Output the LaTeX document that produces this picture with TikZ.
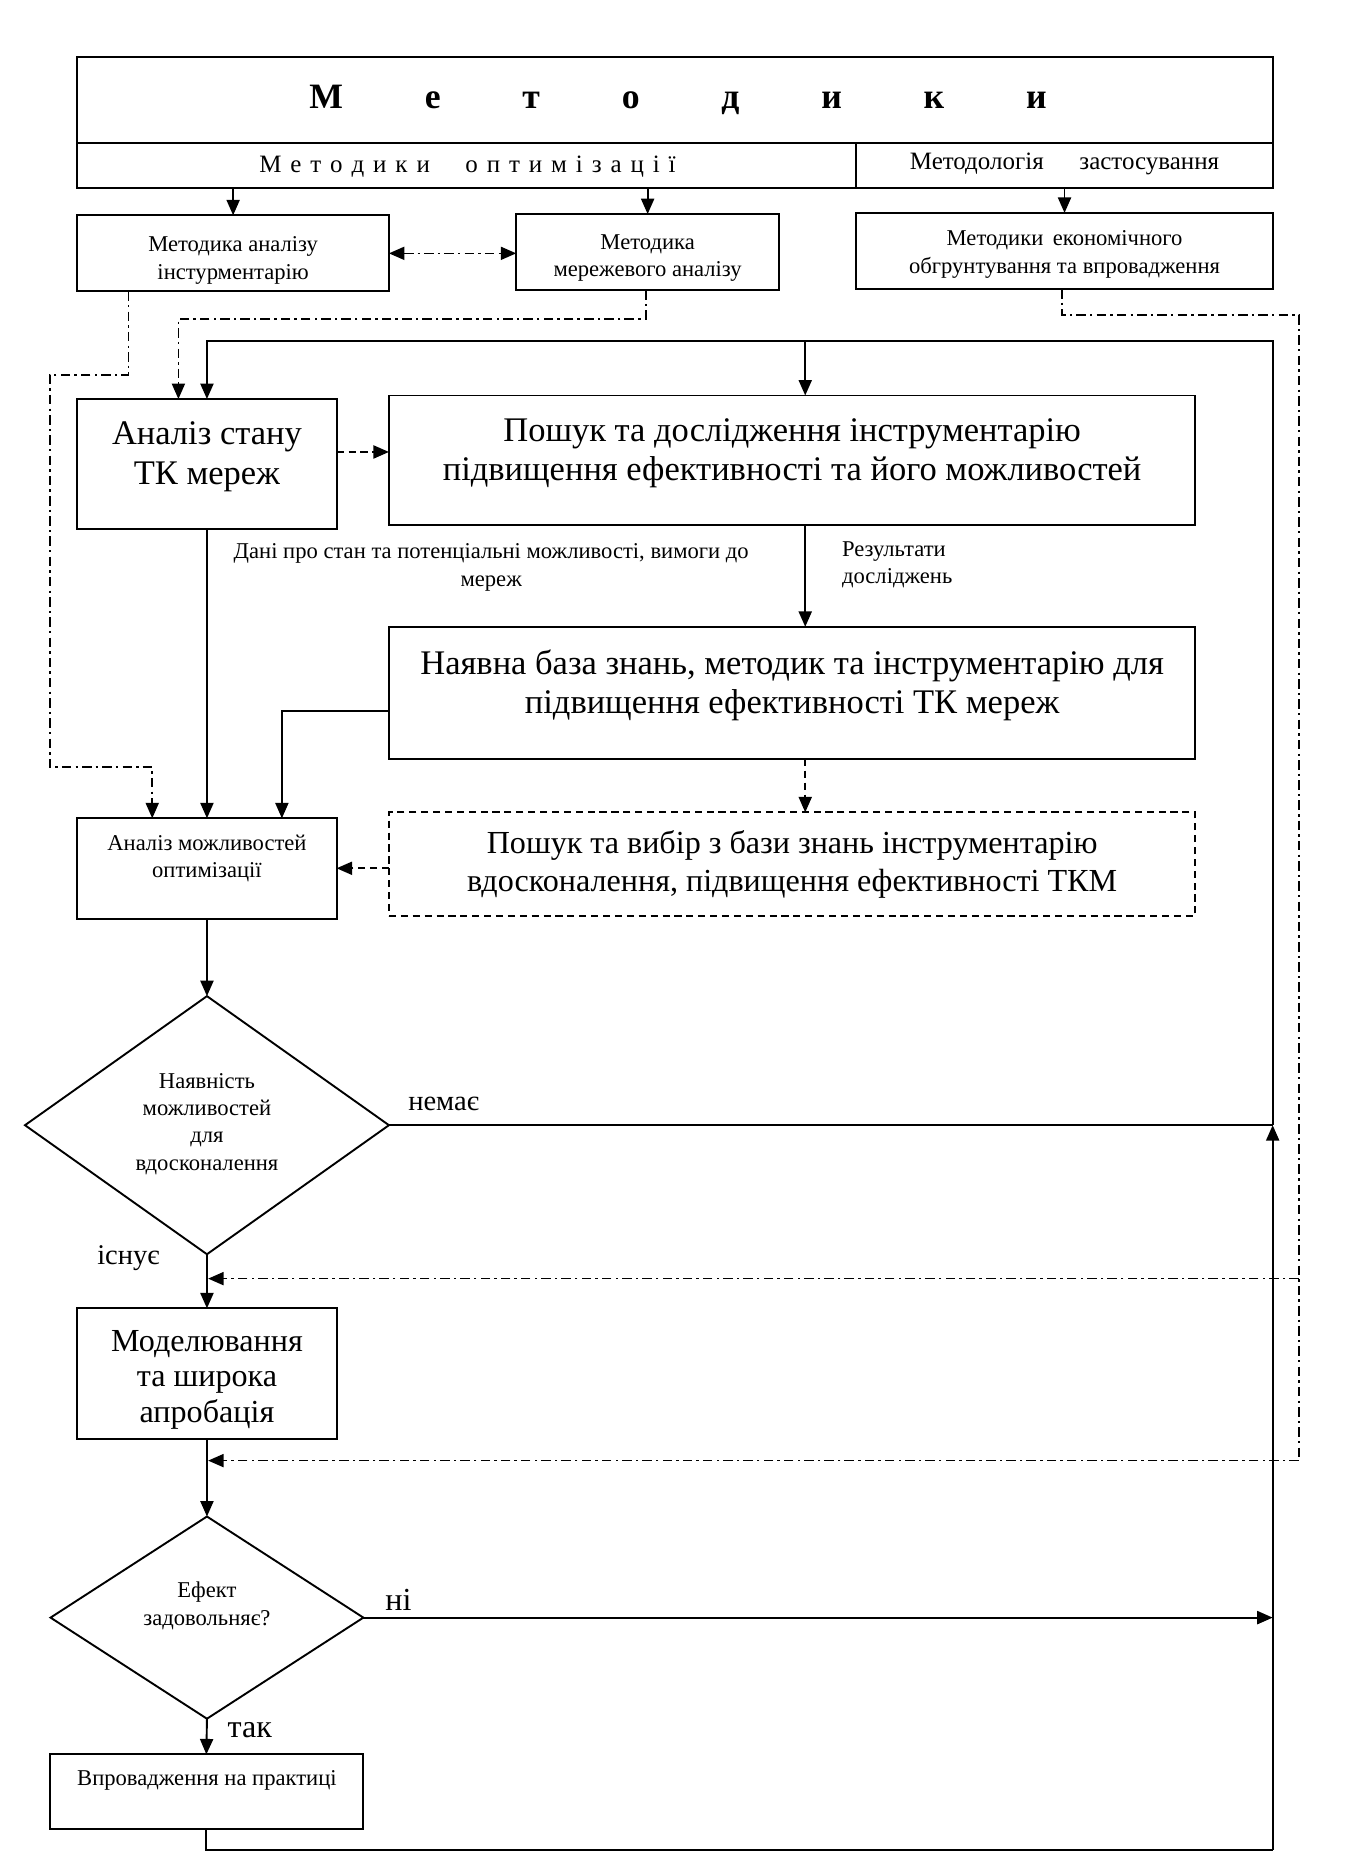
\documentclass[tikz,border=0pt]{standalone}
\usepackage{fontspec}
\setmainfont{Liberation Serif}
\usetikzlibrary{arrows.meta,shapes.geometric}
\newcommand\szS{\fontsize{19}{23}\selectfont}
\newcommand\szB{\fontsize{29}{33}\selectfont}
\newcommand\szV{\fontsize{27}{32}\selectfont}
\newcommand\szMo{\fontsize{27}{30}\selectfont}
\newcommand\szT{\fontsize{30}{36}\selectfont\bfseries}
\newcommand\szM{\fontsize{21}{25}\selectfont}
\newcommand\szL{\fontsize{24}{28}\selectfont}
\newcommand\szLL{\fontsize{27}{30}\selectfont}
\begin{document}
\begin{tikzpicture}[x=1pt,y=-1pt,
  every node/.style={inner sep=0pt, outer sep=0pt},
  box/.style={draw, line width=1.6pt, rectangle, align=center},
  ln/.style={line width=1.6pt},
  arr/.style={-{Triangle[length=13pt,width=11pt]}},
  dd/.style={line width=1.4pt, dash pattern=on 8pt off 3.5pt on 2pt off 3.5pt},
  ds/.style={line width=1.4pt, dash pattern=on 6pt off 4pt},
  dia/.style={draw, line width=1.6pt, diamond},
  lbl/.style={align=center}
]
\useasboundingbox (0,0) rectangle (1135,1568);
\fill[white] (0,0) rectangle (1135,1568);

% header
\node[box, minimum width=1005pt, minimum height=72pt] (top) at (567.5,84) {};
\node[font=\szT] (toptxt) at (570,84) {\makebox[620pt]{М\hfill е\hfill т\hfill о\hfill д\hfill и\hfill к\hfill и}};
\node[box, minimum width=655pt, minimum height=38pt] (optl) at (392.5,139) {};
\node[font=\szM] (opttxt) at (393,140) {\makebox[350pt]{М\hfill е\hfill т\hfill о\hfill д\hfill и\hfill к\hfill и\hfill\hfill\hfill\hfill о\hfill п\hfill т\hfill и\hfill м\hfill і\hfill з\hfill а\hfill ц\hfill і\hfill ї}};
\node[box, minimum width=350pt, minimum height=38pt] (optr) at (895,139) {};
\node[font=\szM] (optrt) at (895,138) {Методологія\hspace{30pt}застосування};

% second level
\node[box, minimum width=262pt, minimum height=64pt] (m1) at (196,213) {};
\node[font=\szS, lbl] (m1t) at (196,219) {Методика аналізу\\інстурментарію};
\node[box, minimum width=221pt, minimum height=64pt] (m2) at (544.5,212) {};
\node[font=\szS, lbl] (m2t) at (544.5,217) {Методика\\мережевого аналізу};
\node[box, minimum width=350pt, minimum height=64pt] (m3) at (895,211) {};
\node[font=\szS, lbl] (m3t) at (895,214) {Методики\hspace{8pt}економічного\\обгрунтування та впровадження};

\draw[ln,arr] (m1.north |- optl.south) -- (m1.north);
\draw[ln,arr] (m2.north |- optl.south) -- (m2.north);
\draw[ln,arr] (m3.north |- optr.south) -- (m3.north);
\draw[dd,{Triangle[length=13pt,width=11pt]}-{Triangle[length=13pt,width=11pt]}] (m1.east) -- (m1.east -| m2.west);

% main boxes
\node[box, minimum width=218pt, minimum height=109pt] (stan) at (174,390) {};
\node[font=\szB, lbl] (stant) at (174,384) {Аналіз стану\\ТК мереж};
\node[box, minimum width=678pt, minimum height=109pt] (posh) at (666,387) {};
\node[font=\szB, lbl] (posht) at (666,381) {Пошук та дослідження інструментарію\\підвищення ефективності та його можливостей};
\node[box, minimum width=678pt, minimum height=111pt] (baza) at (666,582.5) {};
\node[font=\szB, lbl] (bazat) at (666,576) {Наявна база знань, методик та інструментарію для\\підвищення ефективності ТК мереж};
\node[box, dash pattern=on 6pt off 4pt, minimum width=678pt, minimum height=87pt] (vyb) at (666,726.5) {};
\node[font=\szV, lbl] (vybt) at (666,727) {Пошук та вибір з бази знань інструментарію\\вдосконалення, підвищення ефективності ТКМ};
\node[box, minimum width=218pt, minimum height=85pt] (am) at (174,730.5) {};
\node[font=\szS, lbl] (amt) at (174,722) {Аналіз можливостей\\оптимізації};

\node[font=\szS, lbl] (lbl1) at (413,477) {Дані про стан та потенціальні можливості, вимоги до\\мереж};
\node[font=\szS, align=left, anchor=west] (lbl2) at (708,475) {Результати\\досліджень};

% decisions
\node[dia, minimum width=306pt, minimum height=217pt] (d1) at (174,946) {};
\node[font=\szS, lbl] (d1t) at (174,945) {Наявність\\можливостей\\для\\вдосконалення};
\node[box, minimum width=218pt, minimum height=110pt] (model) at (174,1155) {};
\node[font=\szMo, lbl] (modelt) at (174,1160) {Моделювання\\та широка\\апробація};
\node[dia, minimum width=263pt, minimum height=170pt] (d2) at (174,1360) {};
\node[font=\szS, lbl] (d2t) at (174,1350) {Ефект\\задовольняє?};
\node[box, minimum width=263pt, minimum height=63pt] (impl) at (173.5,1506.5) {};
\node[font=\szS] (implt) at (174,1497) {Впровадження на практиці};

\node[font=\szL] (no1) at (373,928) {немає};
\node[font=\szL] (yes1) at (108,1058) {існує};
\node[font=\szLL] (no2) at (335,1345) {ні};
\node[font=\szLL] (yes2) at (210,1455) {так};

% coordinates
\coordinate (rb) at (1070,1555);
\coordinate (rn) at (1070,946);
\coordinate (rt) at (1070,287);
\coordinate (pn) at ([xshift=11pt]posh.north);
\coordinate (bz) at ([yshift=-15.5pt]baza.west);
\coordinate (a3) at ([xshift=63pt]am.north);
\coordinate (a1) at ([xshift=-46pt]am.north);
\coordinate (s1) at ([xshift=-24pt]stan.north);
\coordinate (c1) at ([xshift=-88pt]m1.south);
\coordinate (c2) at ([xshift=-1.5pt]m2.south);
\coordinate (c3) at ([xshift=-2pt]m3.south);
\coordinate (vw) at ([yshift=-3.5pt]vyb.west);
\coordinate (sw) at ([yshift=10pt]stan.east);
\coordinate (q1) at (175,1075);
\coordinate (q2) at (175,1228);

% solid / dashed connectors
\draw[ds,arr] (sw) -- (sw -| posh.west);
\draw[ln,arr] (pn |- posh.south) -- (pn |- baza.north);
\draw[ds,arr] (pn |- baza.south) -- (pn |- vyb.north);
\draw[ds,arr] (vw) -- (vw -| am.east);
\draw[ln,arr] (bz) -| (a3);
\draw[ln,arr] (stan.south) -- (am.north);
\draw[ln,arr] (am.south) -- (d1.north);
\draw[ln] (d1.east) -- (rn);
\draw[ln,arr] (d1.south) -- (model.north);
\draw[ln,arr] (model.south) -- (d2.north);
\draw[ln,arr] (d2.east) -- (d2.east -| rb);
\draw[ln,arr] (d2.south) -- (impl.north);
\draw[ln] (impl.south) |- (rb);
\draw[ln,arr] (rb) -- (rn);
\draw[ln,arr] (rn) -- (rt) -| (stan.north);
\draw[ln,arr] (pn |- rt) -- (pn);

% dash-dot connectors
\draw[dd,arr] (c1) |- (42,315) |- (128,645) -- (a1);
\draw[dd,arr] (c2) |- (150,268) -- (s1);
\draw[dd] (c3) |- (1092,265) -- (1092,1228);
\draw[dd,arr] (1092,1075) -- (q1);
\draw[dd,arr] (1092,1228) -- (q2);
\end{tikzpicture}
\end{document}
